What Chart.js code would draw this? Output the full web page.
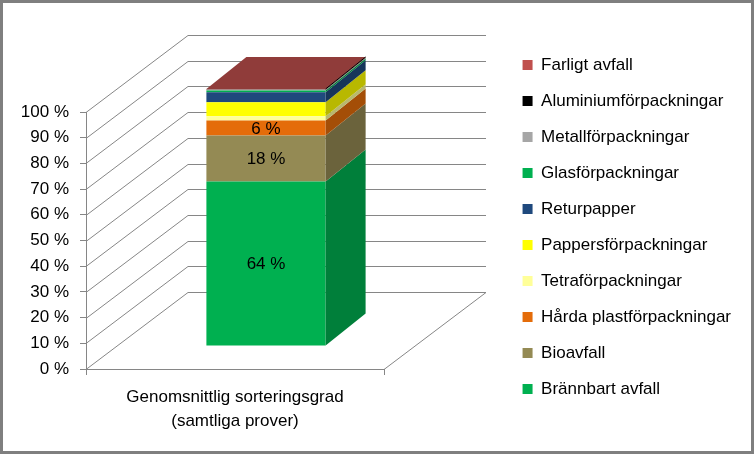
<!DOCTYPE html>
<html>
<head>
<meta charset="utf-8">
<script src="https://cdn.jsdelivr.net/npm/chart.js@4.4.1/dist/chart.umd.min.js"></script>
<style>
  body { margin: 0; background: #fff; }
  #wrap { width: 754px; height: 454px; position: relative; }
</style>
</head>
<body>
<div id="wrap"><canvas id="sortering"></canvas></div>
<script>
let kategorier = [['Genomsnittlig sorteringsgrad', '(samtliga prover)']]
let fraktioner = ['Brännbart avfall', 'Bioavfall', 'Hårda plastförpackningar', 'Tetraförpackningar',
  'Pappersförpackningar', 'Returpapper', 'Glasförpackningar', 'Metallförpackningar',
  'Aluminiumförpackningar', 'Farligt avfall']
let andel = [64.0, 17.9, 5.8, 1.7, 5.4, 3.9, 0.7, 0.3, 0.1, 0.2]
let farger = ['#00B050', '#948A54', '#E46C0A', '#FFFF99', '#FFFF00', '#1F497D', '#00B050', '#A6A6A6', '#000000', '#C0504D']
let med_etikett = ['Brännbart avfall', 'Bioavfall', 'Hårda plastförpackningar']
let y_max = 100
let y_steg = 10

Chart.defaults.font.family = '"Liberation Sans", Arial, sans-serif'
Chart.defaults.font.size = 17
Chart.defaults.color = '#000'

// 3D-projektion: bakvägg, stapelns framsida och djup
const vagg = { dx: 102, dy: -77 }
const fram = { dx: 31, dy: -23 }
const djup = { dx: 40, dy: -32 }
const linjefarg = '#868686'
const hogerMarginal = 13

function skugga(hex, f) {
  const n = parseInt(hex.slice(1), 16)
  const r = Math.round((n >> 16 & 255) * f)
  const g = Math.round((n >> 8 & 255) * f)
  const b = Math.round((n & 255) * f)
  return 'rgb(' + r + ',' + g + ',' + b + ')'
}

const tredje = {
  id: 'tredje',
  beforeDatasetsDraw(chart) {
    const { ctx, chartArea: a, scales: { y } } = chart
    ctx.save()
    ctx.strokeStyle = linjefarg
    ctx.lineWidth = 1
    ctx.beginPath()
    y.ticks.forEach(t => {
      const py = Math.round(y.getPixelForValue(t.value)) + 0.5
      ctx.moveTo(a.left, py)
      ctx.lineTo(a.left + vagg.dx, py + vagg.dy)
      ctx.lineTo(a.right + vagg.dx, py + vagg.dy)
    })
    const b = Math.round(y.getPixelForValue(0)) + 0.5
    ctx.moveTo(a.right, b)
    ctx.lineTo(a.right + vagg.dx, b + vagg.dy)
    ctx.stroke()
    ctx.restore()

    ctx.save()
    ctx.translate(fram.dx, fram.dy)
  },
  afterDatasetsDraw(chart) {
    const ctx = chart.ctx
    const sista = chart.data.datasets.length - 1
    chart.data.datasets.forEach((ds, i) => {
      chart.getDatasetMeta(i).data.forEach(bar => {
        const { x, y, base, width } = bar.getProps(['x', 'y', 'base', 'width'], true)
        const l = x - width / 2, r = x + width / 2
        const top = Math.min(y, base), bot = Math.max(y, base)
        ctx.fillStyle = skugga(ds.backgroundColor, 0.72)
        ctx.beginPath()
        ctx.moveTo(r, bot)
        ctx.lineTo(r, top)
        ctx.lineTo(r + djup.dx, top + djup.dy)
        ctx.lineTo(r + djup.dx, bot + djup.dy)
        ctx.closePath()
        ctx.fill()
        if (i === sista) {
          ctx.fillStyle = skugga(ds.backgroundColor, 0.75)
          ctx.beginPath()
          ctx.moveTo(l, top)
          ctx.lineTo(r, top)
          ctx.lineTo(r + djup.dx, top + djup.dy)
          ctx.lineTo(l + djup.dx, top + djup.dy)
          ctx.closePath()
          ctx.fill()
          ctx.strokeStyle = '#000'
          ctx.lineWidth = 1
          ctx.beginPath()
          ctx.moveTo(r, top)
          ctx.lineTo(r + djup.dx, top + djup.dy)
          ctx.stroke()
        }
      })
    })
    // dataetiketter
    ctx.fillStyle = '#000'
    ctx.font = '17px "Liberation Sans", Arial, sans-serif'
    ctx.textAlign = 'center'
    ctx.textBaseline = 'middle'
    chart.data.datasets.forEach((ds, i) => {
      if (!med_etikett.includes(ds.label)) return
      chart.getDatasetMeta(i).data.forEach((bar, j) => {
        const { x, y, base } = bar.getProps(['x', 'y', 'base'], true)
        ctx.fillText(Math.round(ds.data[j]) + ' %', x, (y + base) / 2 + 1)
      })
    })
    ctx.restore()
  },
  afterDraw(chart) {
    const ctx = chart.ctx
    ctx.save()
    ctx.strokeStyle = '#7f7f7f'
    ctx.lineWidth = 3
    ctx.strokeRect(1.5, 1.5, chart.width - 3, chart.height - 3)
    ctx.restore()
  }
}

var ctx = document.getElementById('sortering').getContext('2d')

var chart = new Chart(ctx, {
  type: 'bar',
  data: {
    labels: kategorier,
    datasets: fraktioner.map((namn, i) => ({
      label: namn,
      data: [andel[i]],
      backgroundColor: farger[i],
      borderWidth: 0,
      barPercentage: 0.4,
      categoryPercentage: 1,
      clip: false,
    }))
  },
  options: {
    responsive: true,
    maintainAspectRatio: false,
    animation: false,
    events: [],
    layout: { padding: { right: hogerMarginal } },
    scales: {
      x: {
        stacked: true,
        grid: { drawOnChartArea: false, tickLength: 6, color: linjefarg },
        border: { color: linjefarg },
        ticks: { padding: 10, font: { size: 17, lineHeight: '24px' } },
        afterFit: s => { s.height = 85 }
      },
      y: {
        stacked: true,
        min: 0,
        max: y_max,
        ticks: { stepSize: y_steg, padding: 11, callback: v => v + ' %' },
        grid: { drawOnChartArea: false, tickLength: 6, color: linjefarg },
        border: { color: linjefarg },
        afterFit: s => { s.width = 86 }
      },
      topp: {
        type: 'linear', position: 'top',
        ticks: { display: false }, grid: { display: false }, border: { display: false },
        afterFit: s => { s.height = 112 }
      },
      hoger: {
        type: 'linear', position: 'right',
        ticks: { display: false }, grid: { display: false }, border: { display: false },
        afterFit: s => {
          const lw = s.chart.legend ? s.chart.legend.width : 0
          s.width = s.chart.width - hogerMarginal - lw - 384
        }
      }
    },
    plugins: {
      legend: {
        position: 'right',
        reverse: true,
        maxWidth: 400,
        labels: { boxWidth: 10, boxHeight: 10, padding: 19, color: '#000', font: { size: 17 } }
      },
      tooltip: { enabled: false }
    }
  },
  plugins: [tredje]
})
</script>
</body>
</html>
